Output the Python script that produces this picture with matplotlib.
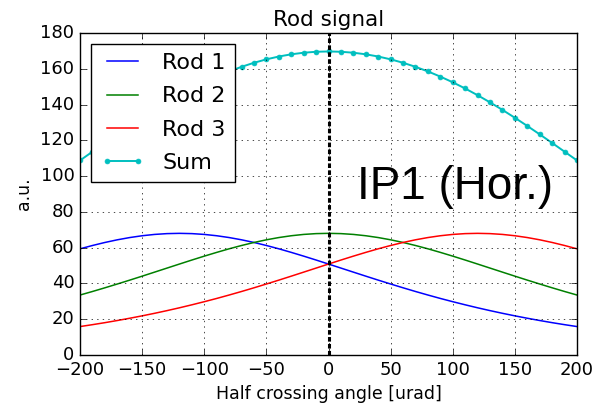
import matplotlib
matplotlib.use('Agg')
import matplotlib.pyplot as plt

plt.style.use('classic')

#### Data
angle = list(range(-200, 201, 10))   # half crossing angle [urad]

rod1 = [59.36, 61.21, 62.90, 64.39, 65.65, 66.66, 67.40, 67.85, 68.00, 67.85,
        67.40, 66.66, 65.65, 64.39, 62.90, 61.21, 59.36, 57.36, 55.26, 53.08,
        50.84, 48.58, 46.32, 44.07, 41.85, 39.68, 37.56, 35.50, 33.52, 31.61,
        29.79, 28.05, 26.38, 24.80, 23.30, 21.88, 20.54, 19.27, 18.07, 16.95,
        15.89]
rod2 = [33.52, 35.50, 37.56, 39.68, 41.85, 44.07, 46.32, 48.58, 50.84, 53.08,
        55.26, 57.36, 59.36, 61.21, 62.90, 64.39, 65.65, 66.66, 67.40, 67.85,
        68.00, 67.85, 67.40, 66.66, 65.65, 64.39, 62.90, 61.21, 59.36, 57.36,
        55.26, 53.08, 50.84, 48.58, 46.32, 44.07, 41.85, 39.68, 37.56, 35.50,
        33.52]
rod3 = rod1[::-1]
total = [108.77, 113.66, 118.53, 123.34, 128.04, 132.61, 137.02, 141.23, 145.22, 148.98,
         152.45, 155.63, 158.53, 161.10, 163.36, 165.28, 166.86, 168.09, 168.98, 169.51,
         169.68, 169.51, 168.98, 168.09, 166.86, 165.28, 163.36, 161.10, 158.53, 155.63,
         152.45, 148.98, 145.22, 141.23, 137.02, 132.61, 128.04, 123.34, 118.53, 113.66,
         108.77]

fig = plt.figure(figsize=(5.93, 4.05), dpi=100, facecolor='white')
ax = fig.add_axes([0.135, 0.1235, 0.838, 0.795])

ax.plot(angle, rod1, 'b-', lw=1.1, label='Rod 1')
ax.plot(angle, rod2, 'g-', lw=1.1, label='Rod 2')
ax.plot(angle, rod3, 'r-', lw=1.1, label='Rod 3')
ax.plot(angle, total, 'c.-', lw=1.4, ms=7, mec='c', label='Sum')
ax.axvline(0, color='k', ls='--', lw=2.2, dashes=(3.3, 1.7))

ax.set_xlim(-200, 200)
ax.set_ylim(0, 180)
ax.set_xticks(range(-200, 201, 50))
ax.set_yticks(range(0, 181, 20))
ax.tick_params(labelsize=13)
ax.grid(True)
ax.set_xlabel('Half crossing angle [urad]', fontsize=12.5)
ax.set_ylabel('a.u.', fontsize=12.5)
ax.set_title('Rod signal', fontsize=15.5)
ax.legend(loc='upper left', fontsize=16, labelspacing=0.6)
ax.text(23, 87, 'IP1 (Hor.)', fontsize=33, family='Liberation Sans')

fig.savefig('out.png', dpi=100, facecolor='white')
